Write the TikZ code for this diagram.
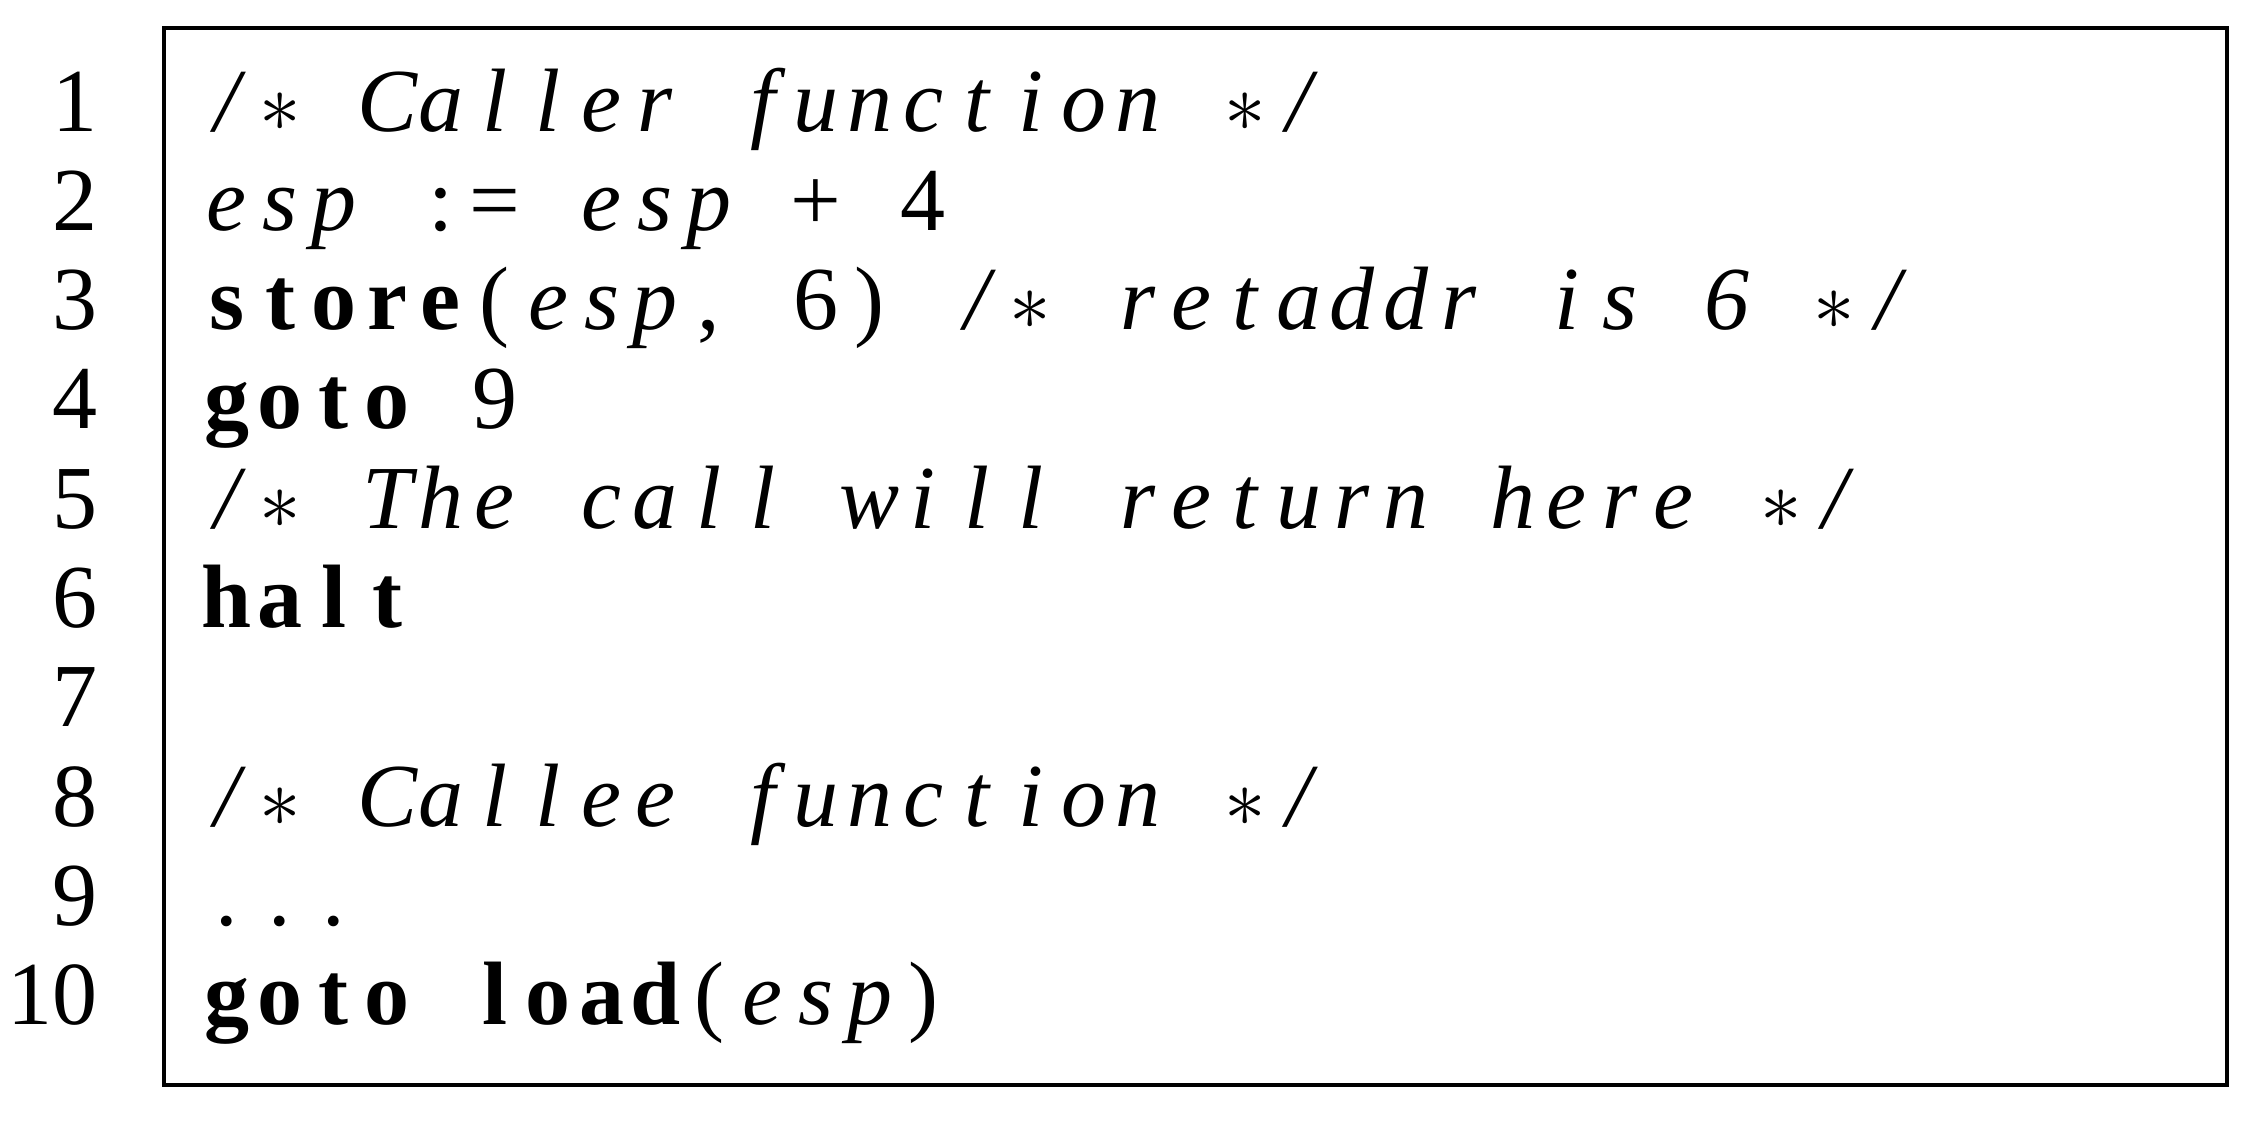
\documentclass[tikz,border=0pt]{standalone}
\usepackage{fontspec}
\setmainfont{Liberation Serif}
\newlength\colw
\setlength\colw{13.4pt}
\ExplSyntaxOn
\NewDocumentCommand\fx{mm}{\tl_map_inline:nn {#2} {\makebox[\colw]{#1##1}}}
\ExplSyntaxOff
\newcommand\st{\ensuremath{\ast}}
\tikzset{
  codefont/.style={font=\fontsize{22.5pt}{26pt}\selectfont},
  codeline/.style={codefont, anchor=base west, inner sep=0pt},
  lnum/.style={codefont, anchor=base east, inner sep=0pt},
  framebox/.style={draw=black, line width=0.8pt}
}
\begin{document}
\begin{tikzpicture}[x=0.25pt, y=-0.25pt]
\useasboundingbox (0,0) rectangle (2256,1126);
\coordinate (tl) at (164,28);
\coordinate (br) at (2227,1085);
\draw[framebox] (tl) rectangle (br);
% line numbers
\foreach \i in {1,...,10}{
  \node[lnum] (n\i) at (98,{131+99.3*(\i-1)}) {\i};
}
% code lines
\node[codeline] (c1) at (199,131) {\fx\itshape{/\st~Caller~function~\st/}};
\node[codeline] (c2) at (199,230.3) {\fx\itshape{esp}\fx\upshape{~:=~}\fx\itshape{esp}\fx\upshape{~+~4}};
\node[codeline] (c3) at (199,329.6) {\fx\bfseries{store}\fx\upshape{(}\fx\itshape{esp}\fx\upshape{,~6)~}\fx\itshape{/\st~retaddr~is~6~\st/}};
\node[codeline] (c4) at (199,428.9) {\fx\bfseries{goto}\fx\upshape{~9}};
\node[codeline] (c5) at (199,528.2) {\fx\itshape{/\st~The~call~will~return~here~\st/}};
\node[codeline] (c6) at (199,627.5) {\fx\bfseries{halt}};
\node[codeline] (c8) at (199,826.1) {\fx\itshape{/\st~Callee~function~\st/}};
\node[codeline] (c9) at (199,925.4) {\fx\upshape{...}};
\node[codeline] (c10) at (199,1024.7) {\fx\bfseries{goto~load}\fx\upshape{(}\fx\itshape{esp}\fx\upshape{)}};
\end{tikzpicture}
\end{document}
